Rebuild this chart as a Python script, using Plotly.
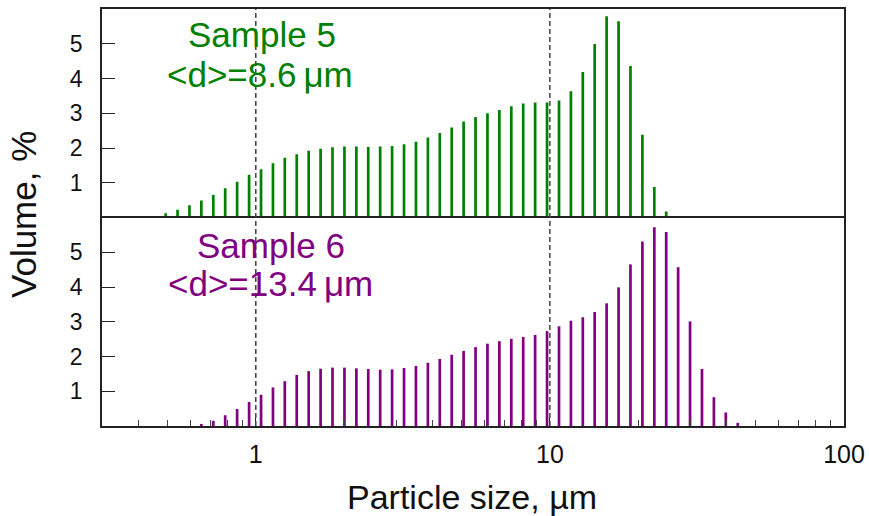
import plotly.graph_objects as go
from plotly.subplots import make_subplots

# Particle size bin centres (µm)
sizes = [0.450, 0.494, 0.542, 0.595, 0.653, 0.717, 0.787, 0.864, 0.949, 1.042,
         1.144, 1.255, 1.378, 1.513, 1.661, 1.823, 2.002, 2.198, 2.412, 2.648,
         2.907, 3.192, 3.504, 3.847, 4.223, 4.636, 5.089, 5.587, 6.133, 6.733,
         7.392, 8.114, 8.908, 9.779, 10.74, 11.79, 12.94, 14.20, 15.59, 17.12,
         18.79, 20.63, 22.65, 24.86, 27.29, 29.96, 32.89, 36.11, 39.64, 43.52]

# Sample 5 volume % (bins 0..43)
sample5 = [0.04, 0.12, 0.22, 0.35, 0.49, 0.65, 0.84, 1.03, 1.23, 1.39,
           1.56, 1.72, 1.82, 1.92, 1.98, 2.02, 2.04, 2.04, 2.03, 2.04,
           2.06, 2.11, 2.18, 2.30, 2.43, 2.59, 2.76, 2.89, 3.00, 3.09,
           3.20, 3.28, 3.31, 3.31, 3.37, 3.63, 4.19, 4.99, 5.79, 5.65,
           4.36, 2.38, 0.88, 0.17]
# Sample 6 volume % (bins 4..49)
sample6 = [0.06, 0.15, 0.31, 0.49, 0.69, 0.90, 1.11, 1.29, 1.47, 1.58,
           1.65, 1.68, 1.68, 1.66, 1.64, 1.62, 1.63, 1.67, 1.73, 1.82,
           1.93, 2.05, 2.16, 2.27, 2.37, 2.44, 2.51, 2.56, 2.62, 2.73,
           2.87, 3.03, 3.13, 3.28, 3.53, 3.99, 4.65, 5.31, 5.72, 5.58,
           4.57, 3.01, 1.64, 0.83, 0.39, 0.09]
sizes5 = sizes[0:44]
sizes6 = sizes[4:50]

y_ticks = [1, 2, 3, 4, 5]
x_ticks = [1, 10, 100]
x_ticktext = ["1", "10", "100"]
minor_x = [0.3, 0.4, 0.5, 0.6, 0.7, 0.8, 0.9, 2, 3, 4, 5, 6, 7, 8, 9,
           20, 30, 40, 50, 60, 70, 80, 90]
ref_lines = [1, 10]

GREEN = "#008000"
PURPLE = "#800080"
FONT = "Liberation Sans, Arial, sans-serif"


def stems(xs, ys):
    X, Y = [], []
    for x, y in zip(xs, ys):
        X += [x, x, None]
        Y += [0, y, None]
    return X, Y


fig = make_subplots(rows=2, cols=1, shared_xaxes=True, vertical_spacing=0)

x5, y5 = stems(sizes5, sample5)
x6, y6 = stems(sizes6, sample6)
fig.add_trace(go.Scatter(x=x5, y=y5, mode="lines",
                         line=dict(color=GREEN, width=2.7), showlegend=False,
                         hoverinfo="skip"), row=1, col=1)
fig.add_trace(go.Scatter(x=x6, y=y6, mode="lines",
                         line=dict(color=PURPLE, width=2.7), showlegend=False,
                         hoverinfo="skip"), row=2, col=1)

xr = [-0.5229, 2]
LC = "#222"
fig.update_xaxes(type="log", range=xr, showgrid=False, zeroline=False,
                 automargin=False)
# top panel: only the top frame line
fig.update_xaxes(row=1, col=1, ticks="", showticklabels=False, side="top",
                 showline=True, linecolor=LC, linewidth=1.6, mirror=False)
# bottom panel: bottom line + mirrored divider line
fig.update_xaxes(row=2, col=1, tickmode="array", tickvals=x_ticks,
                 ticktext=x_ticktext, ticks="inside", ticklen=8,
                 tickcolor=LC, tickwidth=1.2,
                 showline=True, linecolor=LC, linewidth=1.6, mirror=True,
                 tickfont=dict(family=FONT, size=25, color="#111"),
                 ticklabelstandoff=5,
                 minor=dict(ticks="inside", ticklen=6, tickvals=minor_x,
                            tickcolor="#444", tickwidth=1.2))
fig.update_yaxes(range=[0, 6], tickmode="array", tickvals=y_ticks,
                 ticks="inside", ticklen=13, tickcolor=LC, tickwidth=1.2,
                 showline=True, linecolor=LC, linewidth=1.6, mirror=True,
                 showgrid=False, zeroline=False, automargin=False,
                 tickfont=dict(family=FONT, size=23, color="#111"),
                 ticklabelstandoff=13)

for v in ref_lines:
    fig.add_shape(type="line", xref="x2", yref="paper", x0=v, x1=v, y0=0, y1=1,
                  line=dict(color="#444", width=1.5, dash="5px,3px"))

H = 516 - 9 - 90


def py(pix):
    return (516 - 90 - pix) / H


W = 869 - 102 - 25


def px(pix):
    return (pix - 102) / W


annots = [
    ("Sample 5", 261.5, 35, GREEN),
    ("&lt;d&gt;=8.6\u2009μm", 260, 74, GREEN),
    ("Sample 6", 270.5, 245, PURPLE),
    ("&lt;d&gt;=13.4\u2009μm", 270, 283, PURPLE),
]
for t, x, y, c in annots:
    fig.add_annotation(text=t, xref="paper", yref="paper", x=px(x), y=py(y),
                       xanchor="center", yanchor="middle", showarrow=False,
                       font=dict(family=FONT, size=35, color=c))

fig.add_annotation(text="Volume, %", xref="paper", yref="paper",
                   x=px(23), y=py(215), xanchor="center", yanchor="middle",
                   textangle=-90, showarrow=False,
                   font=dict(family=FONT, size=35, color="#111"))
fig.add_annotation(text="Particle size, µm", xref="paper", yref="paper",
                   x=px(472), y=py(497), xanchor="center", yanchor="middle",
                   showarrow=False,
                   font=dict(family=FONT, size=34, color="#111"))

fig.update_layout(width=869, height=516, margin=dict(l=102, r=25, t=9, b=90),
                  plot_bgcolor="white", paper_bgcolor="white")

fig.write_html("out.html")
